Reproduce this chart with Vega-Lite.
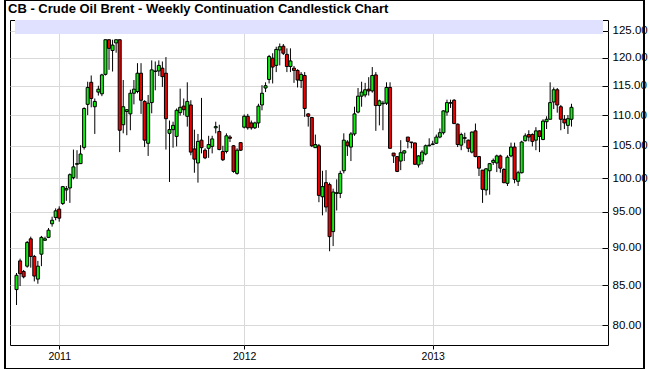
{
  "$schema": "https://vega.github.io/schema/vega-lite/v6.json",
  "width": 598,
  "height": 325,
  "autosize": {"type": "none"},
  "padding": {"left": 10, "top": 20, "right": 42, "bottom": 24},
  "background": "white",
  "title": {"text": "CB - Crude Oil Brent - Weekly Continuation Candlestick Chart", "anchor": "start", "frame": "group", "font": "Liberation Sans", "fontSize": 13, "fontWeight": "bold", "color": "black", "baseline": "alphabetic", "offset": -26, "dx": -2},
  "config": {
    "view": {"stroke": "black", "strokeWidth": 1},
    "axis": {"labelFont": "Liberation Sans", "labelColor": "black", "gridColor": "#d9d9d9", "gridWidth": 1, "tickColor": "black", "domain": false}
  },
  "data": {"values": [
    {"date":"2010/10/11","open":84.45,"high":86.6,"low":82.5,"close":86.3},
    {"date":"2010/10/18","open":88.2,"high":88.5,"low":84.9,"close":86.5},
    {"date":"2010/10/25","open":86.8,"high":87.0,"low":85.9,"close":86.1},
    {"date":"2010/11/01","open":87.5,"high":90.9,"low":87.3,"close":90.7},
    {"date":"2010/11/08","open":91.2,"high":91.5,"low":87.3,"close":88.8},
    {"date":"2010/11/15","open":88.8,"high":89.0,"low":85.5,"close":86.2},
    {"date":"2010/11/22","open":85.8,"high":88.2,"low":85.2,"close":87.5},
    {"date":"2010/11/29","open":89.1,"high":91.6,"low":87.5,"close":91.4},
    {"date":"2010/12/06","open":91.0,"high":91.5,"low":90.9,"close":91.2},
    {"date":"2010/12/13","open":91.4,"high":92.7,"low":91.3,"close":92.4},
    {"date":"2010/12/20","open":93.3,"high":94.3,"low":92.9,"close":93.8},
    {"date":"2010/12/27","open":94.2,"high":95.5,"low":93.8,"close":95.15},
    {"date":"2011/01/03","open":95.4,"high":95.8,"low":93.6,"close":94.1},
    {"date":"2011/01/10","open":96.2,"high":98.8,"low":96.0,"close":98.7},
    {"date":"2011/01/17","open":98.2,"high":98.8,"low":96.6,"close":98.4},
    {"date":"2011/01/24","open":98.5,"high":100.7,"low":96.3,"close":100.5},
    {"date":"2011/01/31","open":100.05,"high":104.4,"low":99.8,"close":101.7},
    {"date":"2011/02/07","open":102.1,"high":104.3,"low":99.9,"close":102.2},
    {"date":"2011/02/14","open":102.2,"high":105.1,"low":102.2,"close":103.7},
    {"date":"2011/02/21","open":104.75,"high":111.3,"low":104.4,"close":111.1},
    {"date":"2011/02/28","open":111.8,"high":115.7,"low":110.0,"close":114.7},
    {"date":"2011/03/07","open":115.6,"high":116.8,"low":111.3,"close":112.8},
    {"date":"2011/03/14","open":111.4,"high":112.8,"low":106.9,"close":112.3},
    {"date":"2011/03/21","open":113.9,"high":115.0,"low":113.3,"close":114.4},
    {"date":"2011/03/28","open":113.6,"high":117.1,"low":113.2,"close":116.9},
    {"date":"2011/04/04","open":117.0,"high":123.3,"low":116.8,"close":123.3},
    {"date":"2011/04/11","open":123.3,"high":123.3,"low":117.8,"close":121.7},
    {"date":"2011/04/18","open":121.3,"high":123.3,"low":117.5,"close":122.3},
    {"date":"2011/04/25","open":122.7,"high":123.3,"low":120.9,"close":123.3},
    {"date":"2011/05/02","open":123.3,"high":123.3,"low":104.0,"close":107.5},
    {"date":"2011/05/09","open":108.4,"high":116.0,"low":107.0,"close":111.4},
    {"date":"2011/05/16","open":110.6,"high":111.0,"low":106.7,"close":110.9},
    {"date":"2011/05/23","open":110.2,"high":114.3,"low":107.5,"close":113.7},
    {"date":"2011/05/30","open":113.7,"high":116.0,"low":111.8,"close":114.4},
    {"date":"2011/06/06","open":114.0,"high":119.0,"low":113.7,"close":117.2},
    {"date":"2011/06/13","open":117.2,"high":119.0,"low":110.2,"close":112.5},
    {"date":"2011/06/20","open":112.3,"high":112.5,"low":104.8,"close":105.9},
    {"date":"2011/06/27","open":105.4,"high":113.4,"low":103.4,"close":112.0},
    {"date":"2011/07/04","open":112.1,"high":119.5,"low":110.3,"close":117.8},
    {"date":"2011/07/11","open":117.5,"high":119.3,"low":114.2,"close":117.6},
    {"date":"2011/07/18","open":117.6,"high":119.5,"low":116.7,"close":118.6},
    {"date":"2011/07/25","open":118.1,"high":119.3,"low":114.8,"close":116.6},
    {"date":"2011/08/01","open":117.2,"high":120.1,"low":104.4,"close":109.4},
    {"date":"2011/08/08","open":107.0,"high":109.1,"low":99.4,"close":107.6},
    {"date":"2011/08/15","open":107.6,"high":108.9,"low":104.7,"close":108.3},
    {"date":"2011/08/22","open":106.5,"high":111.1,"low":104.9,"close":110.8},
    {"date":"2011/08/29","open":110.4,"high":114.5,"low":109.9,"close":111.3},
    {"date":"2011/09/05","open":111.5,"high":112.8,"low":110.0,"close":110.9},
    {"date":"2011/09/12","open":109.8,"high":115.6,"low":108.1,"close":112.3},
    {"date":"2011/09/19","open":111.7,"high":112.5,"low":103.5,"close":104.0},
    {"date":"2011/09/26","open":104.5,"high":107.6,"low":100.8,"close":102.9},
    {"date":"2011/10/03","open":102.3,"high":106.9,"low":99.3,"close":105.7},
    {"date":"2011/10/10","open":105.9,"high":112.9,"low":103.8,"close":104.7},
    {"date":"2011/10/17","open":104.3,"high":104.6,"low":102.9,"close":103.1},
    {"date":"2011/10/24","open":104.6,"high":106.6,"low":103.1,"close":105.2},
    {"date":"2011/10/31","open":104.9,"high":106.6,"low":103.8,"close":106.1},
    {"date":"2011/11/07","open":107.9,"high":108.9,"low":107.0,"close":108.1},
    {"date":"2011/11/14","open":107.3,"high":108.4,"low":104.3,"close":104.4},
    {"date":"2011/11/21","open":104.1,"high":105.0,"low":102.6,"close":102.8},
    {"date":"2011/11/28","open":104.1,"high":107.0,"low":103.8,"close":106.6},
    {"date":"2011/12/05","open":106.4,"high":106.7,"low":105.6,"close":106.2},
    {"date":"2011/12/12","open":105.0,"high":105.1,"low":100.8,"close":101.0},
    {"date":"2011/12/19","open":100.7,"high":104.6,"low":100.5,"close":104.3},
    {"date":"2011/12/26","open":105.5,"high":105.6,"low":104.2,"close":104.3},
    {"date":"2012/01/02","open":108.0,"high":110.1,"low":107.8,"close":109.8},
    {"date":"2012/01/09","open":109.8,"high":110.2,"low":107.6,"close":107.9},
    {"date":"2012/01/16","open":108.7,"high":109.1,"low":107.6,"close":107.9},
    {"date":"2012/01/23","open":107.9,"high":108.9,"low":107.7,"close":108.7},
    {"date":"2012/01/30","open":108.7,"high":111.9,"low":107.9,"close":111.5},
    {"date":"2012/02/06","open":111.7,"high":115.1,"low":110.8,"close":113.7},
    {"date":"2012/02/13","open":114.6,"high":115.6,"low":113.9,"close":115.0},
    {"date":"2012/02/20","open":116.1,"high":120.5,"low":115.4,"close":120.2},
    {"date":"2012/02/27","open":119.9,"high":120.8,"low":115.4,"close":118.3},
    {"date":"2012/03/05","open":118.6,"high":122.0,"low":117.4,"close":121.5},
    {"date":"2012/03/12","open":121.4,"high":122.6,"low":118.6,"close":122.0},
    {"date":"2012/03/19","open":122.1,"high":122.5,"low":120.5,"close":120.8},
    {"date":"2012/03/26","open":120.6,"high":121.7,"low":117.4,"close":118.4},
    {"date":"2012/04/02","open":118.4,"high":121.7,"low":117.4,"close":119.4},
    {"date":"2012/04/09","open":118.1,"high":118.5,"low":115.5,"close":117.7},
    {"date":"2012/04/16","open":117.7,"high":117.9,"low":114.7,"close":116.0},
    {"date":"2012/04/23","open":115.9,"high":117.4,"low":114.6,"close":117.0},
    {"date":"2012/04/30","open":116.8,"high":117.4,"low":109.7,"close":111.1},
    {"date":"2012/05/07","open":110.2,"high":110.3,"low":108.1,"close":109.8},
    {"date":"2012/05/14","open":109.6,"high":109.7,"low":104.8,"close":105.0},
    {"date":"2012/05/21","open":104.7,"high":106.8,"low":104.7,"close":105.2},
    {"date":"2012/05/28","open":105.0,"high":105.3,"low":96.4,"close":97.4},
    {"date":"2012/06/04","open":97.2,"high":101.1,"low":94.5,"close":98.7},
    {"date":"2012/06/11","open":99.3,"high":101.2,"low":95.0,"close":95.7},
    {"date":"2012/06/18","open":99.0,"high":99.3,"low":89.5,"close":91.5},
    {"date":"2012/06/25","open":92.2,"high":98.4,"low":90.2,"close":97.9},
    {"date":"2012/07/02","open":97.7,"high":99.8,"low":95.2,"close":97.8},
    {"date":"2012/07/09","open":97.7,"high":101.1,"low":97.0,"close":100.7},
    {"date":"2012/07/16","open":101.1,"high":107.0,"low":100.7,"close":105.9},
    {"date":"2012/07/23","open":105.6,"high":105.9,"low":103.4,"close":105.0},
    {"date":"2012/07/30","open":104.8,"high":107.2,"low":102.6,"close":106.9},
    {"date":"2012/08/06","open":106.9,"high":111.4,"low":106.6,"close":110.2},
    {"date":"2012/08/13","open":110.5,"high":114.6,"low":110.3,"close":113.2},
    {"date":"2012/08/20","open":113.2,"high":115.7,"low":111.4,"close":113.9},
    {"date":"2012/08/27","open":113.4,"high":115.5,"low":113.0,"close":114.3},
    {"date":"2012/09/03","open":114.4,"high":116.5,"low":113.3,"close":114.1},
    {"date":"2012/09/10","open":114.1,"high":118.3,"low":113.8,"close":116.8},
    {"date":"2012/09/17","open":116.9,"high":117.4,"low":107.4,"close":111.6},
    {"date":"2012/09/24","open":111.6,"high":112.6,"low":108.3,"close":112.4},
    {"date":"2012/10/01","open":111.9,"high":112.4,"low":107.5,"close":112.0},
    {"date":"2012/10/08","open":112.0,"high":115.6,"low":111.7,"close":114.7},
    {"date":"2012/10/15","open":114.7,"high":115.6,"low":104.6,"close":104.6},
    {"date":"2012/10/22","open":103.85,"high":103.85,"low":102.3,"close":103.4},
    {"date":"2012/10/29","open":103.3,"high":103.3,"low":100.9,"close":101.0},
    {"date":"2012/11/05","open":102.6,"high":105.9,"low":101.2,"close":103.9},
    {"date":"2012/11/12","open":103.85,"high":104.3,"low":102.6,"close":104.2},
    {"date":"2012/11/19","open":106.4,"high":106.4,"low":104.6,"close":105.7},
    {"date":"2012/11/26","open":105.6,"high":105.6,"low":104.6,"close":105.5},
    {"date":"2012/12/03","open":105.45,"high":105.5,"low":102.0,"close":102.1},
    {"date":"2012/12/10","open":102.0,"high":103.5,"low":101.6,"close":103.4},
    {"date":"2012/12/17","open":102.6,"high":104.3,"low":102.1,"close":104.0},
    {"date":"2012/12/24","open":103.7,"high":105.2,"low":103.5,"close":105.0},
    {"date":"2012/12/31","open":105.0,"high":106.2,"low":104.9,"close":105.1},
    {"date":"2013/01/07","open":105.2,"high":105.8,"low":105.1,"close":105.3},
    {"date":"2013/01/14","open":105.4,"high":106.8,"low":105.3,"close":106.4},
    {"date":"2013/01/21","open":106.4,"high":107.8,"low":106.2,"close":107.1},
    {"date":"2013/01/28","open":107.1,"high":110.8,"low":106.8,"close":110.7},
    {"date":"2013/02/04","open":110.5,"high":112.6,"low":109.9,"close":112.1},
    {"date":"2013/02/11","open":112.0,"high":112.6,"low":111.2,"close":112.1},
    {"date":"2013/02/18","open":112.5,"high":112.7,"low":108.5,"close":108.6},
    {"date":"2013/02/25","open":108.5,"high":108.6,"low":104.8,"close":105.2},
    {"date":"2013/03/04","open":105.1,"high":107.1,"low":104.3,"close":106.8},
    {"date":"2013/03/11","open":106.3,"high":107.1,"low":105.4,"close":106.2},
    {"date":"2013/03/18","open":105.9,"high":106.0,"low":104.0,"close":104.6},
    {"date":"2013/03/25","open":104.0,"high":107.3,"low":103.8,"close":107.2},
    {"date":"2013/04/01","open":107.4,"high":108.6,"low":103.2,"close":103.3},
    {"date":"2013/04/08","open":103.3,"high":103.4,"low":100.3,"close":101.5},
    {"date":"2013/04/15","open":101.2,"high":101.2,"low":96.3,"close":98.3},
    {"date":"2013/04/22","open":98.2,"high":101.5,"low":97.4,"close":101.4},
    {"date":"2013/04/29","open":101.1,"high":102.3,"low":97.5,"close":102.2},
    {"date":"2013/05/06","open":102.4,"high":103.0,"low":102.0,"close":102.7},
    {"date":"2013/05/13","open":102.3,"high":103.6,"low":100.9,"close":103.4},
    {"date":"2013/05/20","open":103.4,"high":103.6,"low":100.8,"close":101.5},
    {"date":"2013/05/27","open":101.3,"high":101.5,"low":99.2,"close":99.3},
    {"date":"2013/06/03","open":99.2,"high":103.5,"low":98.8,"close":103.2},
    {"date":"2013/06/10","open":103.4,"high":105.5,"low":103.2,"close":104.8},
    {"date":"2013/06/17","open":104.8,"high":105.5,"low":99.2,"close":99.8},
    {"date":"2013/06/24","open":99.5,"high":101.1,"low":98.8,"close":100.8},
    {"date":"2013/07/01","open":100.8,"high":105.8,"low":100.7,"close":105.6},
    {"date":"2013/07/08","open":105.8,"high":107.0,"low":105.7,"close":106.6},
    {"date":"2013/07/15","open":106.8,"high":107.5,"low":105.7,"close":106.4},
    {"date":"2013/07/22","open":106.8,"high":107.0,"low":104.9,"close":105.7},
    {"date":"2013/07/29","open":105.9,"high":108.0,"low":104.3,"close":107.4},
    {"date":"2013/08/05","open":107.4,"high":107.5,"low":104.0,"close":106.5},
    {"date":"2013/08/12","open":106.0,"high":109.3,"low":105.9,"close":109.0},
    {"date":"2013/08/19","open":108.9,"high":109.8,"low":107.7,"close":109.3},
    {"date":"2013/08/26","open":109.3,"high":115.6,"low":109.3,"close":112.1},
    {"date":"2013/09/02","open":112.2,"high":114.7,"low":111.0,"close":114.3},
    {"date":"2013/09/09","open":114.3,"high":114.6,"low":110.4,"close":111.7},
    {"date":"2013/09/16","open":111.4,"high":111.7,"low":107.5,"close":109.3},
    {"date":"2013/09/23","open":109.3,"high":110.0,"low":107.7,"close":108.7},
    {"date":"2013/09/30","open":108.3,"high":110.0,"low":106.9,"close":109.4},
    {"date":"2013/10/07","open":109.3,"high":111.9,"low":108.1,"close":111.3}
  ]},
  "layer": [
    {
      "mark": {"type": "rule", "color": "black", "strokeWidth": 1},
      "encoding": {
        "x": {"field": "date", "type": "temporal",
          "scale": {"domain": [{"year": 2010, "month": 10, "date": 8}, {"year": 2013, "month": 12, "date": 8}]},
          "axis": {"title": null, "values": [{"year": 2011, "month": 1, "date": 3}, {"year": 2012, "month": 1, "date": 2}, {"year": 2013, "month": 1, "date": 7}], "format": "%Y", "labelFontSize": 10.5, "tickSize": 4, "labelPadding": 2, "grid": true}},
        "y": {"field": "low", "type": "quantitative",
          "scale": {"type": "log", "domain": [77.65, 127.04], "nice": false, "zero": false},
          "axis": {"title": null, "orient": "right", "values": [80, 85, 90, 95, 100, 105, 110, 115, 120, 125], "format": ".2f", "labelFontSize": 11.5, "tickSize": -6, "labelPadding": 10, "grid": true}},
        "y2": {"field": "high"}
      }
    },
    {
      "mark": {"type": "rect", "fill": "#e0e0ff", "opacity": 0.8},
      "encoding": {
        "x": {"datum": {"year": 2010, "month": 10, "date": 8}, "type": "temporal"},
        "x2": {"datum": {"year": 2013, "month": 12, "date": 8}},
        "y": {"datum": 124.4, "type": "quantitative"},
        "y2": {"datum": 127.04}
      }
    },
    {
      "mark": {"type": "bar", "size": 3, "stroke": "black", "strokeWidth": 1},
      "encoding": {
        "x": {"field": "date", "type": "temporal"},
        "y": {"field": "open", "type": "quantitative"},
        "y2": {"field": "close"},
        "fill": {"condition": {"test": "datum.close >= datum.open", "value": "#0ef00e"}, "value": "#ee0000"}
      }
    },
    {
      "mark": {"type": "rect", "fill": null, "stroke": "black", "strokeWidth": 1},
      "encoding": {
        "x": {"datum": {"year": 2010, "month": 9, "date": 19}, "type": "temporal"},
        "x2": {"datum": {"year": 2014, "month": 2, "date": 26}},
        "y": {"datum": 130.85, "type": "quantitative"},
        "y2": {"datum": 74.93}
      }
    }
  ]
}
